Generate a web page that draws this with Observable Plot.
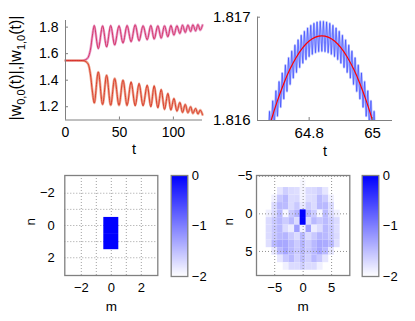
<!DOCTYPE html>
<html><head><meta charset="utf-8">
<script src="https://cdn.jsdelivr.net/npm/d3@7"></script>
<script src="https://cdn.jsdelivr.net/npm/@observablehq/plot@0.6"></script>
<style>
body{margin:0;background:#fff;}
#fig{position:relative;width:415px;height:321px;overflow:hidden;background:#fff;font-family:"Liberation Sans",Arial,sans-serif;}
#fig > svg{position:absolute;overflow:visible;}
</style></head><body><div id="fig"></div>
<script>
// ---- top-left: |w_{0,0}(t)| and |w_{1,0}(t)| (extrema)
const tSplit = [0, 10, 17, 19, 21, 23, 25, 26.7, 30.4, 34.4, 38.1, 41.9, 45.6, 49.6, 53.3, 57.1, 60.8, 64.6, 68.2, 71.9, 75.7, 79.1, 82.2, 85.6, 88.7, 91.8, 94.9, 97.7, 100.5, 103.3, 106, 108.5, 111, 113.5, 116, 118.1, 120.6, 122.8, 124.9, 127];
const yUpper = [1.548, 1.548, 1.55, 1.556, 1.572, 1.625, 1.74, 1.812, 1.638, 1.81, 1.65, 1.812, 1.665, 1.81, 1.68, 1.812, 1.69, 1.817, 1.697, 1.81, 1.705, 1.812, 1.71, 1.81, 1.717, 1.81, 1.727, 1.812, 1.74, 1.81, 1.752, 1.815, 1.76, 1.815, 1.767, 1.818, 1.772, 1.82, 1.777, 1.815];
const yLower = [1.548, 1.548, 1.546, 1.54, 1.522, 1.45, 1.31, 1.228, 1.462, 1.217, 1.437, 1.212, 1.412, 1.212, 1.4, 1.21, 1.387, 1.207, 1.375, 1.207, 1.362, 1.2, 1.357, 1.192, 1.33, 1.18, 1.3, 1.175, 1.262, 1.167, 1.232, 1.157, 1.217, 1.155, 1.2, 1.15, 1.187, 1.145, 1.175, 1.14];
const tlXTicks = [0, 50, 100];
const tlYTicks = [1.2, 1.4, 1.6, 1.8];

// ---- top-right: zoom near t = 64.8
const redT = [64.64, 64.66, 64.68, 64.70, 64.72, 64.74, 64.76, 64.78, 64.80, 64.82, 64.84, 64.86, 64.88, 64.90, 64.92, 64.94, 64.96, 64.98, 65.00, 65.02, 65.04];
const redY = [1.815539, 1.815782, 1.816000, 1.816192, 1.816359, 1.816500, 1.816615, 1.816705, 1.816769, 1.816807, 1.816820, 1.816807, 1.816769, 1.816705, 1.816615, 1.816500, 1.816359, 1.816192, 1.816000, 1.815782, 1.815539];
const blueT = [64.655, 64.660, 64.665, 64.670, 64.675, 64.680, 64.685, 64.690, 64.695, 64.700, 64.705, 64.710, 64.715, 64.720, 64.725, 64.730, 64.735, 64.740, 64.745, 64.750, 64.755, 64.760, 64.765, 64.770, 64.775, 64.780, 64.785, 64.790, 64.795, 64.800, 64.805, 64.810, 64.815, 64.820, 64.825, 64.830, 64.835, 64.840, 64.845, 64.850, 64.855, 64.860, 64.865, 64.870, 64.875, 64.880, 64.885, 64.890, 64.895, 64.900, 64.905, 64.910, 64.915, 64.920, 64.925, 64.930, 64.935, 64.940, 64.945, 64.950, 64.955, 64.960, 64.965, 64.970, 64.975, 64.980, 64.985, 64.990, 64.995, 65.000, 65.005, 65.010, 65.015, 65.020, 65.025, 65.030, 65.035];
const blueY = [1.815864, 1.815632, 1.815979, 1.815744, 1.816088, 1.815850, 1.816190, 1.815949, 1.816287, 1.816042, 1.816376, 1.816129, 1.816460, 1.816209, 1.816536, 1.816282, 1.816607, 1.816350, 1.816671, 1.816411, 1.816729, 1.816465, 1.816780, 1.816513, 1.816825, 1.816555, 1.816863, 1.816590, 1.816895, 1.816619, 1.816921, 1.816641, 1.816940, 1.816657, 1.816953, 1.816667, 1.816959, 1.816670, 1.816959, 1.816667, 1.816953, 1.816657, 1.816940, 1.816641, 1.816921, 1.816619, 1.816895, 1.816590, 1.816863, 1.816555, 1.816825, 1.816513, 1.816780, 1.816465, 1.816729, 1.816411, 1.816671, 1.816350, 1.816607, 1.816282, 1.816536, 1.816209, 1.816460, 1.816129, 1.816376, 1.816042, 1.816287, 1.815949, 1.816190, 1.815850, 1.816088, 1.815744, 1.815979, 1.815632, 1.815864, 1.815514, 1.815742];
const trXTicks = [64.8, 65];
const trYTicks = [1.816, 1.817];

// ---- bottom-left: initial state (log10 amplitude)
const initM = [0, 0];
const initN = [0, 1];
const initV = [0, 0];
const blTicks = [-2, 0, 2];
const blGrid = [-2, -1, 0, 1, 2];

// ---- bottom-right: final state (log10 amplitude), rows n, columns m
const heatM = [-6, -5, -4, -3, -2, -1, 0, 1, 2, 3, 4, 5, 6];
const heatN = [-4, -3, -2, -1, 0, 1, 2, 3, 4, 5, 6, 7];
const heatV = [
  [null, null, null, null, null, null, -1.93, null, null, null, null, null, null],
  [null, null, -1.8, -1.62, -1.72, -1.74, -1.9, -1.72, -1.7, -1.62, -1.8, null, null],
  [null, -1.88, -1.58, -1.45, -1.72, -1.7, -1.9, -1.74, -1.72, -1.47, -1.6, -1.88, null],
  [null, -1.72, -1.45, -1.47, -1.72, -1.58, -1.82, -1.6, -1.72, -1.45, -1.45, -1.72, null],
  [-1.88, -1.72, -1.45, -1.93, -1.58, -1.42, 0, -1.42, -1.6, -1.93, -1.47, -1.72, -1.88],
  [-1.72, -1.58, -1.45, -1.6, -1.45, -1.72, 0, -1.72, -1.45, -1.58, -1.47, -1.6, -1.72],
  [-1.72, -1.58, -1.45, -1.72, -1.85, -1.25, -1.9, -1.27, -1.85, -1.72, -1.45, -1.58, -1.74],
  [-1.72, -1.58, -1.45, -1.42, -1.58, -1.72, -1.45, -1.72, -1.58, -1.42, -1.45, -1.58, -1.72],
  [-1.75, -1.45, -1.32, -1.32, -1.45, -1.6, -1.42, -1.6, -1.45, -1.32, -1.34, -1.45, -1.75],
  [null, -1.8, -1.45, -1.3, -1.45, -1.58, -1.45, -1.58, -1.45, -1.3, -1.45, -1.8, null],
  [null, null, -1.8, -1.58, -1.45, -1.65, -1.5, -1.65, -1.45, -1.58, -1.8, null, null],
  [null, null, null, -1.88, -1.72, -1.72, -1.62, -1.72, -1.72, -1.88, null, null, null]
];
const brTicks = [-5, 0, 5];
const cbTicks = [-2, -1, 0];

// ---------------------------------------------------------------
const fig = document.getElementById("fig");
const FONT = "'Liberation Sans', Arial, Helvetica, sans-serif";
const AX = "#808080";
const colorScale = {type: "linear", domain: [-2, 0], range: ["#ffffff", "#0000ff"], clamp: true, interpolate: "rgb"};
const intFmt = d => d < 0 ? "\u2212" + (-d) : String(d);

function place(svg, left, top) {
  svg.style.left = left + "px";
  svg.style.top = top + "px";
  fig.appendChild(svg);
  return svg;
}

const upper = tSplit.map((t, i) => ({t, y: yUpper[i]}));
const lower = tSplit.map((t, i) => ({t, y: yLower[i]}));

const p1 = Plot.plot({
  width: 210, height: 160,
  marginLeft: 65, marginRight: 8, marginTop: 20, marginBottom: 40.5,
  style: {fontFamily: FONT, fontSize: "14px", background: "transparent", color: "black"},
  x: {domain: [0, 127]},
  y: {domain: [1.1, 1.85]},
  marks: [
    Plot.line(upper, {x: "t", y: "y", curve: "catmull-rom", stroke: "#e9a3cf", strokeWidth: 2.6}),
    Plot.line(lower, {x: "t", y: "y", curve: "catmull-rom", stroke: "#eda894", strokeWidth: 2.6}),
    Plot.line(upper, {x: "t", y: "y", curve: "catmull-rom", stroke: "#d42a5c", strokeWidth: 0.9}),
    Plot.line(lower, {x: "t", y: "y", curve: "catmull-rom", stroke: "#d8331f", strokeWidth: 0.9}),
    Plot.ruleY([1.1], {stroke: AX}),
    Plot.ruleX([0], {stroke: AX}),
    Plot.axisX({ticks: tlXTicks, tickFormat: intFmt, tickSize: -3, tickPadding: 10, stroke: AX, fill: "black", label: null}),
    Plot.axisY({ticks: tlYTicks, tickFormat: d => d.toFixed(1), tickSize: -3, tickPadding: 10, stroke: AX, fill: "black", label: null}),
    Plot.text(["t"], {frameAnchor: "bottom", lineAnchor: "middle", dy: 29, fontSize: 14.5, fill: "black"})
  ]
});
place(p1, 0, 0);
{
  const t = d3.select(p1).append("text")
    .attr("transform", "translate(21,68) rotate(-90)")
    .attr("text-anchor", "middle")
    .attr("font-size", 16)
    .attr("fill", "black");
  const parts = [["|w", 0], ["0,0", 1], ["(t)|,|w", 0], ["1,0", 1], ["(t)|", 0]];
  parts.forEach(([s, sub]) => {
    const ts = t.append("tspan").text(s);
    if (sub) ts.attr("font-size", 11).attr("dy", "0.35em");
    else ts.attr("dy", s === "|w" ? "0" : "-0.24em");
  });
}

const redData = redT.map((t, i) => ({t, y: redY[i]}));
const blueData = blueT.map((t, i) => ({t, y: blueY[i]}));
const p2 = Plot.plot({
  width: 210, height: 160,
  marginLeft: 52, marginRight: 23, marginTop: 16.7, marginBottom: 40,
  style: {fontFamily: FONT, fontSize: "15px", background: "transparent", color: "black"},
  x: {domain: [64.637, 65.063]},
  y: {domain: [1.816, 1.817]},
  marks: [
    Plot.line(blueData, {x: "t", y: "y", stroke: "#b4bcff", strokeWidth: 2.2, clip: true}),
    Plot.line(blueData, {x: "t", y: "y", stroke: "#2a3cff", strokeWidth: 0.6, strokeOpacity: 0.9, clip: true}),
    Plot.line(redData, {x: "t", y: "y", curve: "natural", stroke: "#ff0000", strokeWidth: 1.2, clip: true}),
    Plot.ruleY([1.816], {stroke: AX}),
    Plot.ruleX([64.637], {stroke: AX}),
    Plot.axisX({ticks: trXTicks, tickFormat: d => String(d), tickSize: -3, tickPadding: 10, stroke: AX, fill: "black", label: null}),
    Plot.axisY({ticks: trYTicks, tickFormat: d => d.toFixed(3), tickSize: -3, tickPadding: 10, stroke: AX, fill: "black", label: null}),
    Plot.text(["t"], {frameAnchor: "bottom", lineAnchor: "middle", dy: 31, fontSize: 14.5, fill: "black"})
  ]
});
place(p2, 205, 0);

const initCells = initM.map((m, i) => ({m, n: initN[i], v: initV[i]}));
const p3 = Plot.plot({
  width: 205, height: 161,
  marginLeft: 64.3, marginRight: 47.7, marginTop: 15, marginBottom: 46,
  style: {fontFamily: FONT, fontSize: "13px", background: "transparent", color: "black"},
  x: {domain: [-3.1, 3.1]},
  y: {domain: [-3.1, 3.1], reverse: true},
  color: colorScale,
  marks: [
    Plot.ruleX(blGrid, {stroke: "#a0a0a0", strokeDasharray: "1,2"}),
    Plot.ruleY(blGrid, {stroke: "#a0a0a0", strokeDasharray: "1,2"}),
    Plot.rect(initCells, {x1: d => d.m - 0.5, x2: d => d.m + 0.5, y1: d => d.n - 0.5, y2: d => d.n + 0.5, fill: "v"}),
    Plot.frame({stroke: AX, strokeWidth: 1.3}),
    Plot.axisX({ticks: blTicks, tickFormat: intFmt, tickSize: 0, tickPadding: 7, fill: "black", label: null}),
    Plot.axisY({ticks: blTicks, tickFormat: intFmt, tickSize: 0, tickPadding: 10, fill: "black", label: null}),
    Plot.text(["m"], {frameAnchor: "bottom", lineAnchor: "middle", dy: 31, fontSize: 13.5, fill: "black"}),
    Plot.text(["n"], {frameAnchor: "left", lineAnchor: "middle", dx: -34, rotate: -90, fontSize: 13.5, fill: "black"})
  ]
});
place(p3, 0, 160);

function colorbar() {
  return Plot.plot({
    width: 45, height: 121,
    marginLeft: 5.7, marginRight: 22.7, marginTop: 10, marginBottom: 10,
    style: {fontFamily: FONT, fontSize: "13px", background: "transparent", color: "black"},
    x: {domain: [0, 1], axis: null},
    y: {domain: [-2, 0]},
    color: colorScale,
    marks: [
      Plot.raster({x1: 0, x2: 1, y1: -2, y2: 0, fill: (x, y) => y, pixelSize: 1}),
      Plot.frame({stroke: AX, strokeWidth: 1.3}),
      Plot.axisY({anchor: "right", ticks: cbTicks, tickFormat: intFmt, tickSize: 0, tickPadding: 4, fill: "black", label: null})
    ]
  });
}
place(colorbar(), 165, 165);

const heatCells = heatN.flatMap((n, i) => heatM.map((m, j) => ({m, n, v: heatV[i][j]}))).filter(d => d.v !== null);
const p5 = Plot.plot({
  width: 210, height: 161,
  marginLeft: 51, marginRight: 65.7, marginTop: 15, marginBottom: 46,
  style: {fontFamily: FONT, fontSize: "13px", background: "transparent", color: "black"},
  x: {domain: [-8.2, 8.2]},
  y: {domain: [-5.1, 8.2], reverse: true},
  color: colorScale,
  marks: [
    Plot.rect(heatCells, {x1: d => d.m - 0.5, x2: d => d.m + 0.5, y1: d => d.n - 0.5, y2: d => d.n + 0.5, fill: "v"}),
    Plot.ruleX(brTicks, {stroke: "#909090", strokeDasharray: "1,2"}),
    Plot.ruleY(brTicks, {stroke: "#909090", strokeDasharray: "1,2"}),
    Plot.rect(heatCells.filter(d => d.v > -0.5), {x1: d => d.m - 0.5, x2: d => d.m + 0.5, y1: d => d.n - 0.5, y2: d => d.n + 0.5, fill: "v"}),
    Plot.frame({stroke: AX, strokeWidth: 1.3}),
    Plot.axisX({ticks: brTicks, tickFormat: intFmt, tickSize: 0, tickPadding: 7, fill: "black", label: null}),
    Plot.axisY({ticks: brTicks, tickFormat: intFmt, tickSize: 0, tickPadding: 4, fill: "black", label: null}),
    Plot.text(["m"], {frameAnchor: "bottom", lineAnchor: "middle", dy: 31, fontSize: 13.5, fill: "black"}),
    Plot.text(["n"], {frameAnchor: "left", lineAnchor: "middle", dx: -28, rotate: -90, fontSize: 13.5, fill: "black"})
  ]
});
place(p5, 205, 160);
place(colorbar(), 356, 165);
</script></body></html>
